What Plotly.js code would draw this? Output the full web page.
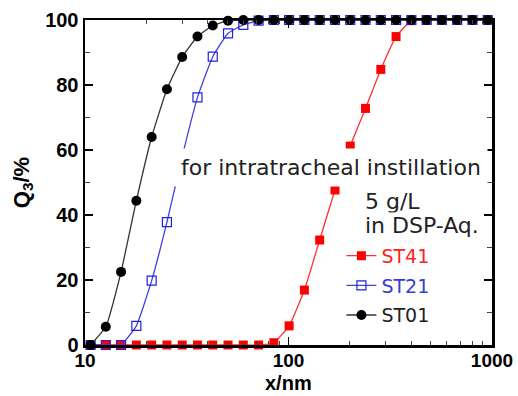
<!DOCTYPE html>
<html>
<head>
<meta charset="utf-8">
<script src="https://cdn.plot.ly/plotly-3.0.1.min.js"></script>
<style>
  html, body { margin: 0; padding: 0; background: #fff; }
  #chart { width: 518px; height: 396px; }
</style>
</head>
<body>
<div id="chart"></div>
<script>
// Particle size grid (nm), shared by all three samples
const sizeNm = [10.65, 12.65, 15.04, 17.88, 21.26, 25.27, 30.04, 35.70, 42.44, 50.45,
                59.97, 71.29, 84.74, 100.7, 119.7, 142.3, 169.2, 201.1, 239.0, 284.2,
                337.8, 401.6, 477.4, 567.5, 674.5, 801.8, 953.0];

// Cumulative volume distribution Q3 (%)
const st41 = [0, 0, 0, 0, 0, 0, 0, 0, 0, 0,
              0, 0, 0.7, 5.9, 16.9, 32.3, 47.7, 61.2, 72.8, 84.8,
              94.9, 99.8, 100, 100, 100, 100, 100];
const st21 = [0, 0, 0, 5.9, 19.8, 37.8, 58.0, 76.2, 88.7, 95.9,
              98.5, 99.8, 100, 100, 100, 100, 100, 100, 100, 100,
              100, 100, 100, 100, 100, 100, 100];
const st01 = [0, 5.6, 22.5, 44.4, 64.0, 78.7, 88.6, 94.9, 98.3, 99.8,
              100, 100, 100, 100, 100, 100, 100, 100, 100, 100,
              100, 100, 100, 100, 100, 100, 100];

const xTickVals = [10, 100, 1000];
const xTickText = ['10', '100', '1000'];
const xMinorVals = [20, 30, 40, 50, 60, 70, 80, 90, 200, 300, 400, 500, 600, 700, 800, 900];

const xTitle = 'x/nm';
const yTitle = 'Q<sub>3</sub>/%';
const noteMain = 'for intratracheal instillation';
const noteConc = '5 g/L';
const noteMedium = 'in DSP-Aq.';

const tickFont = { family: 'Liberation Sans, Arial, sans-serif', size: 20, color: '#000', weight: 'bold' };
const xTickFont = { family: 'Liberation Sans, Arial, sans-serif', size: 19, color: '#000', weight: 'bold' };
const titleFont = { family: 'Liberation Sans, Arial, sans-serif', size: 22, color: '#000', weight: 'bold' };
const xTitleFont = { family: 'Liberation Sans, Arial, sans-serif', size: 20, color: '#000', weight: 'bold' };
const textFont = { family: 'DejaVu Sans, sans-serif', size: 22, color: '#222' };

const traces = [
  {
    x: sizeNm, y: st41, name: '<span style="color:#ff2020">ST41</span>',
    legendgroup: 'a', mode: 'lines+markers', cliponaxis: false,
    line: { color: '#ff3030', width: 1.3, shape: 'spline', smoothing: 0.4 },
    marker: { symbol: 'square', size: 9, color: '#ff0000' }
  },
  {
    x: sizeNm, y: st21, name: '<span style="color:#3a3ad8">ST21</span>',
    legendgroup: 'b', mode: 'lines+markers', cliponaxis: false,
    line: { color: '#4040e0', width: 1.3, shape: 'spline', smoothing: 0.4 },
    marker: { symbol: 'square-open', size: 9, color: '#2020e0', line: { width: 1.2 } }
  },
  {
    x: sizeNm, y: st01, name: 'ST01',
    legendgroup: 'c', mode: 'lines+markers', cliponaxis: false,
    line: { color: '#333333', width: 1.3, shape: 'spline', smoothing: 0.4 },
    marker: { symbol: 'circle', size: 10, color: '#000000' }
  }
];

const layout = {
  width: 518, height: 396,
  margin: { l: 85, r: 26, t: 20, b: 51 },
  paper_bgcolor: '#fff', plot_bgcolor: '#fff',
  showlegend: true,
  legend: {
    x: 0.63, y: 0.333, xanchor: 'left', yanchor: 'top',
    bgcolor: 'rgba(0,0,0,0)', borderwidth: 0,
    font: { family: 'DejaVu Sans, sans-serif', size: 19, color: '#222' },
    itemwidth: 30, traceorder: 'grouped', tracegroupgap: 2
  },
  xaxis: {
    type: 'log', range: [1, 3],
    tickmode: 'array', tickvals: xTickVals, ticktext: xTickText,
    ticks: 'inside', ticklen: 8, tickwidth: 1.5, tickcolor: '#000',
    minor: { tickmode: 'array', tickvals: xMinorVals, ticks: 'inside', ticklen: 4, tickwidth: 1, tickcolor: '#444' },
    showline: true, linewidth: 2.5, linecolor: '#000', mirror: 'allticks',
    showgrid: false, zeroline: false,
    tickfont: xTickFont, ticklabelstandoff: -3
  },
  yaxis: {
    range: [0, 100], dtick: 20,
    ticks: 'inside', ticklen: 8, tickwidth: 1.5, tickcolor: '#000',
    minor: { dtick: 10, ticks: 'inside', ticklen: 5, tickwidth: 1, tickcolor: '#444' },
    showline: true, linewidth: 2.5, linecolor: '#000', mirror: 'allticks',
    showgrid: false, zeroline: false,
    tickfont: tickFont,
    title: { text: yTitle, font: titleFont, standoff: 10 }
  },
  annotations: [
    // x-axis title, set just under the tick labels
    {
      xref: 'paper', yref: 'paper', x: 0.5, y: -0.155, xanchor: 'center', yanchor: 'bottom',
      text: xTitle, showarrow: false, font: xTitleFont, borderpad: 0
    },
    {
      xref: 'paper', yref: 'paper', x: 0.99, y: 0.545, xanchor: 'right', yanchor: 'middle',
      text: noteMain, showarrow: false, font: textFont, bgcolor: '#fff', borderpad: 6
    },
    {
      xref: 'paper', yref: 'paper', x: 0.685, y: 0.441, xanchor: 'left', yanchor: 'middle',
      text: noteConc, showarrow: false, font: textFont, bgcolor: '#fff', borderpad: 0
    },
    {
      xref: 'paper', yref: 'paper', x: 0.685, y: 0.369, xanchor: 'left', yanchor: 'middle',
      text: noteMedium, showarrow: false, font: textFont, bgcolor: '#fff', borderpad: 0
    }
  ]
};

Plotly.newPlot('chart', traces, layout, { displayModeBar: false, staticPlot: true });
</script>
</body>
</html>
